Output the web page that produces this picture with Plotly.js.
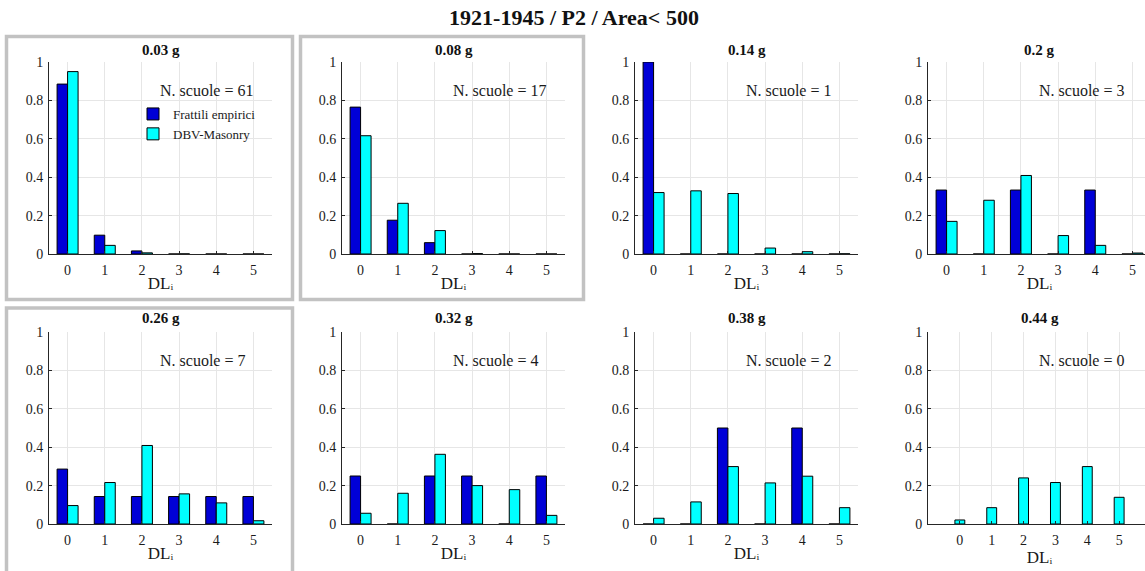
<!DOCTYPE html>
<html>
<head>
<meta charset="utf-8">
<script src="https://cdn.plot.ly/plotly-3.0.1.min.js"></script>
<style>
html,body{margin:0;padding:0;overflow:hidden;background:#ffffff;}
#chart{width:1152px;height:571px;}
</style>
</head>
<body>
<div id="chart"></div>
<script>
// ---------------- DATA ----------------
const mainTitle = "1921-1945 / P2 / Area< 500";
const xAxisTitle = "DL\u1D62";
const damageLevels = [0, 1, 2, 3, 4, 5];
const xTickLabels = ["0", "1", "2", "3", "4", "5"];
const pgaLabels = ["0.03 g", "0.08 g", "0.14 g", "0.2 g", "0.26 g", "0.32 g", "0.38 g", "0.44 g"];
const nSchools = [61, 17, 1, 3, 7, 4, 2, 0];
const seriesNames = ["Frattili empirici", "DBV-Masonry"];

// empirical fragilities (bar heights) per PGA
const emp_003 = [0.885, 0.098, 0.016, 0, 0, 0];
const emp_008 = [0.765, 0.176, 0.059, 0, 0, 0];
const emp_014 = [1.0, 0, 0, 0, 0, 0];
const emp_020 = [0.333, 0, 0.333, 0, 0.333, 0];
const emp_026 = [0.286, 0.143, 0.143, 0.143, 0.143, 0.143];
const emp_032 = [0.25, 0, 0.25, 0.25, 0, 0.25];
const emp_038 = [0, 0, 0.5, 0, 0.5, 0];
const emp_044 = null; // N. scuole = 0 -> no empirical bars

// DBV-Masonry model per PGA
const dbv_003 = [0.950, 0.045, 0.006, 0.0005, 0, 0];
const dbv_008 = [0.616, 0.264, 0.122, 0.002, 0, 0];
const dbv_014 = [0.320, 0.329, 0.315, 0.031, 0.012, 0.001];
const dbv_020 = [0.170, 0.280, 0.409, 0.096, 0.045, 0.005];
const dbv_026 = [0.096, 0.216, 0.409, 0.157, 0.110, 0.017];
const dbv_032 = [0.056, 0.160, 0.363, 0.200, 0.179, 0.045];
const dbv_038 = [0.030, 0.115, 0.299, 0.214, 0.249, 0.085];
const dbv_044 = [0.021, 0.085, 0.240, 0.216, 0.299, 0.139];

const empSeries = [emp_003, emp_008, emp_014, emp_020, emp_026, emp_032, emp_038, emp_044];
const dbvSeries = [dbv_003, dbv_008, dbv_014, dbv_020, dbv_026, dbv_032, dbv_038, dbv_044];

// ---------------- STYLE / LAYOUT ----------------
const W = 1152, H = 571;
const FONT = "Liberation Serif";
const TXT = "#1a1a1a";
const colPx = [[49, 272], [342, 565], [635, 858], [928, 1151]];
const rowPx = [[62, 254], [332, 524]];
const titleRowPx = [50, 318];
const px2x = p => p / W;
const px2y = p => 1 - p / H;
const BLUE = "rgb(0,0,215)";
const CYAN = "rgb(0,255,255)";

const traces = [];
const layout = {
  width: W, height: H,
  margin: {l: 0, r: 0, t: 0, b: 0},
  paper_bgcolor: "#ffffff",
  plot_bgcolor: "#ffffff",
  barmode: "group",
  bargap: 0.435,
  bargroupgap: 0,
  font: {family: FONT, color: TXT},
  title: {
    text: "<b>" + mainTitle + "</b>",
    x: px2x(574), y: px2y(17), xanchor: "center", yanchor: "middle",
    font: {family: FONT, size: 22, color: "#111"}
  },
  showlegend: true,
  legend: {
    x: px2x(133), y: px2y(99), xanchor: "left", yanchor: "top",
    bgcolor: "rgba(0,0,0,0)", borderwidth: 0,
    font: {family: FONT, size: 13, color: TXT},
    tracegroupgap: 0
  },
  annotations: [],
  shapes: []
};

for (let i = 0; i < 8; i++) {
  const col = i % 4, row = Math.floor(i / 4);
  const s = i === 0 ? "" : String(i + 1);
  const xa = "x" + s, ya = "y" + s;
  const single = empSeries[i] === null;

  if (!single) {
    traces.push({
      type: "bar", x: damageLevels, y: empSeries[i], xaxis: xa, yaxis: ya,
      name: seriesNames[0], legendgroup: "emp", showlegend: i === 0,
      marker: {color: BLUE, line: {color: "#000", width: 1}},
      hoverinfo: "x+y"
    });
  }
  const dt = {
    type: "bar", x: damageLevels, y: dbvSeries[i], xaxis: xa, yaxis: ya,
    name: seriesNames[1], legendgroup: "dbv", showlegend: i === 0,
    marker: {color: CYAN, line: {color: "#000", width: 1}},
    hoverinfo: "x+y"
  };
  if (single) dt.width = 0.31;
  traces.push(dt);

  layout["xaxis" + s] = {
    domain: [px2x(colPx[col][0]), px2x(colPx[col][1])],
    anchor: ya,
    range: single ? [-1, 6] : [-0.5, 5.5],
    tickmode: "array", tickvals: damageLevels, ticktext: xTickLabels,
    showgrid: true, gridcolor: "#e6e6e6", gridwidth: 1,
    zeroline: false, showline: true, linecolor: "#262626", linewidth: 1,
    ticks: "inside", ticklen: 3, tickcolor: "#262626",
    tickfont: {family: FONT, size: 14, color: TXT},
    ticklabelstandoff: 3,
    title: {text: xAxisTitle, font: {family: FONT, size: 17, color: TXT}, standoff: 0},
    fixedrange: true
  };
  layout["yaxis" + s] = {
    domain: [px2y(rowPx[row][1]), px2y(rowPx[row][0])],
    anchor: xa,
    range: [0, 1], tick0: 0, dtick: 0.2,
    showgrid: true, gridcolor: "#e6e6e6", gridwidth: 1,
    zeroline: false, showline: true, linecolor: "#262626", linewidth: 1,
    ticks: "inside", ticklen: 3, tickcolor: "#262626",
    tickfont: {family: FONT, size: 14, color: TXT},
    ticklabelstandoff: 2,
    fixedrange: true
  };

  // subplot title
  layout.annotations.push({
    xref: "paper", yref: "paper",
    x: px2x((colPx[col][0] + colPx[col][1]) / 2), y: px2y(titleRowPx[row]),
    xanchor: "center", yanchor: "middle", showarrow: false,
    text: "<b>" + pgaLabels[i] + "</b>",
    font: {family: FONT, size: 15, color: "#111"}
  });
  // N. scuole text
  layout.annotations.push({
    xref: xa + " domain", yref: ya + " domain",
    x: 0.49, y: 0.85, xanchor: "left", yanchor: "middle", showarrow: false,
    text: "N. scuole = " + nSchools[i],
    font: {family: FONT, size: 16, color: TXT}
  });
}

// gray frames highlighting panels
const frames = [[6.5, 36.5, 292.5, 299.5], [300.5, 36.5, 583.5, 299.5], [6.5, 308, 292.5, 580]];
frames.forEach(f => {
  layout.shapes.push({
    type: "rect", xref: "paper", yref: "paper",
    x0: px2x(f[0]), x1: px2x(f[2]), y0: px2y(f[3]), y1: px2y(f[1]),
    line: {color: "#c2c2c2", width: 3.5}, fillcolor: "rgba(0,0,0,0)", layer: "above"
  });
});

Plotly.newPlot("chart", traces, layout, {displayModeBar: false, staticPlot: true});
</script>
</body>
</html>
